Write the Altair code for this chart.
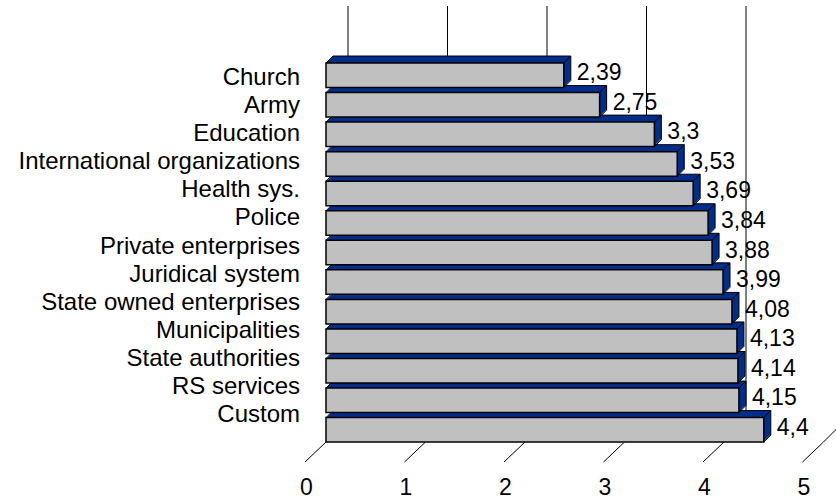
import altair as alt
import pandas as pd

categories = ["Church", "Army", "Education", "International organizations", "Health sys.",
              "Police", "Private enterprises", "Juridical system", "State owned enterprises",
              "Municipalities", "State authorities", "RS services", "Custom"]
values = [2.39, 2.75, 3.3, 3.53, 3.69, 3.84, 3.88, 3.99, 4.08, 4.13, 4.14, 4.15, 4.4]
axis_ticks = [0, 1, 2, 3, 4, 5]

DEPTH = 7
GRAY = "#C0C0C0"
BLUE = "#002C8A"
FONT = "Liberation Sans"

bars = pd.DataFrame({"category": categories, "value": values})
bars["row"] = range(len(categories))
bars["base"] = 0.0
bars["top"] = bars["row"] + 0.0855
bars["bottom"] = bars["row"] + 0.9145
bars["mid"] = bars["row"] + 0.5
bars["label"] = [f"{v:g}".replace(".", ",") for v in values]
ticks = pd.DataFrame({"tick": axis_ticks})

xscale = alt.Scale(domain=[0, 5], range=[326, 823.5], nice=False, zero=False)
yscale = alt.Scale(domain=[0, 13], range=[60.5, 444.6], nice=False, zero=False)

def X(f):
    return alt.X(f, scale=xscale, axis=None)

def Y(f):
    return alt.Y(f, scale=yscale, axis=None)

layers = []

# back wall gridlines
layers.append(alt.Chart(ticks).mark_rule(xOffset=22, color="black", strokeWidth=1).encode(
    x=X("tick:Q"), y=alt.value(6), y2=alt.value(418)))

# floor ticks
layers.append(alt.Chart(ticks).mark_rule(x2Offset=-21, color="black", strokeWidth=1).encode(
    x=X("tick:Q"), x2=alt.X2("tick:Q"), y=alt.value(442), y2=alt.value(462)))

# floor right edge
layers.append(alt.Chart(ticks).transform_filter("datum.tick == 5").mark_rule(
    x2Offset=22, color="black", strokeWidth=1).encode(
    x=X("tick:Q"), x2=alt.X2("tick:Q"), y=alt.value(442), y2=alt.value(420)))

base = alt.Chart(bars)

# blue extrusion (top + side faces)
for k in range(1, DEPTH + 1):
    layers.append(base.mark_rect(fill=BLUE, xOffset=k, x2Offset=k, yOffset=-k, y2Offset=-k).encode(
        x=X("base:Q"), x2="value:Q", y=Y("top:Q"), y2="bottom:Q"))

edge = dict(color="black", strokeWidth=1)
# top back edge
layers.append(base.mark_rule(xOffset=DEPTH, x2Offset=DEPTH, yOffset=-DEPTH, **edge).encode(
    x=X("base:Q"), x2="value:Q", y=Y("top:Q")))
# right back edge
layers.append(base.mark_rule(xOffset=DEPTH, yOffset=-DEPTH, y2Offset=-DEPTH, **edge).encode(
    x=X("value:Q"), y=Y("top:Q"), y2="bottom:Q"))
# diagonals
for xf, yf in [("base", "top"), ("value", "top"), ("value", "bottom")]:
    layers.append(base.mark_rule(x2Offset=DEPTH, y2Offset=-DEPTH, **edge).encode(
        x=X(f"{xf}:Q"), x2=f"{xf}:Q", y=Y(f"{yf}:Q"), y2=f"{yf}:Q"))

# front faces
layers.append(base.mark_rect(fill=GRAY, stroke="black", strokeWidth=1.5).encode(
    x=X("base:Q"), x2="value:Q", y=Y("top:Q"), y2="bottom:Q"))

# value labels
layers.append(base.mark_text(align="left", baseline="alphabetic", dx=13, dy=5,
                             fontSize=23, font=FONT, color="black").encode(
    x=X("value:Q"), y=Y("mid:Q"), text="label:N"))

# category labels
layers.append(base.mark_text(align="right", baseline="alphabetic", fontSize=24,
                             font=FONT, color="black").encode(
    x=alt.value(300),
    y=alt.Y("category:N", sort=categories,
            scale=alt.Scale(type="point", range=[85, 422], padding=0), axis=None),
    text="category:N"))

# x tick labels
layers.append(alt.Chart(ticks).mark_text(align="center", baseline="alphabetic", dx=-19.5,
                                         fontSize=23, font=FONT, color="black").encode(
    x=X("tick:Q"), y=alt.value(495), text="tick:Q"))

chart = alt.layer(*layers).resolve_scale(y="independent").properties(
    width=836, height=500, padding=0, autosize="none", background="white"
).configure_view(stroke=None)

chart.save("out.html", embed_options={"renderer": "svg", "actions": False})
